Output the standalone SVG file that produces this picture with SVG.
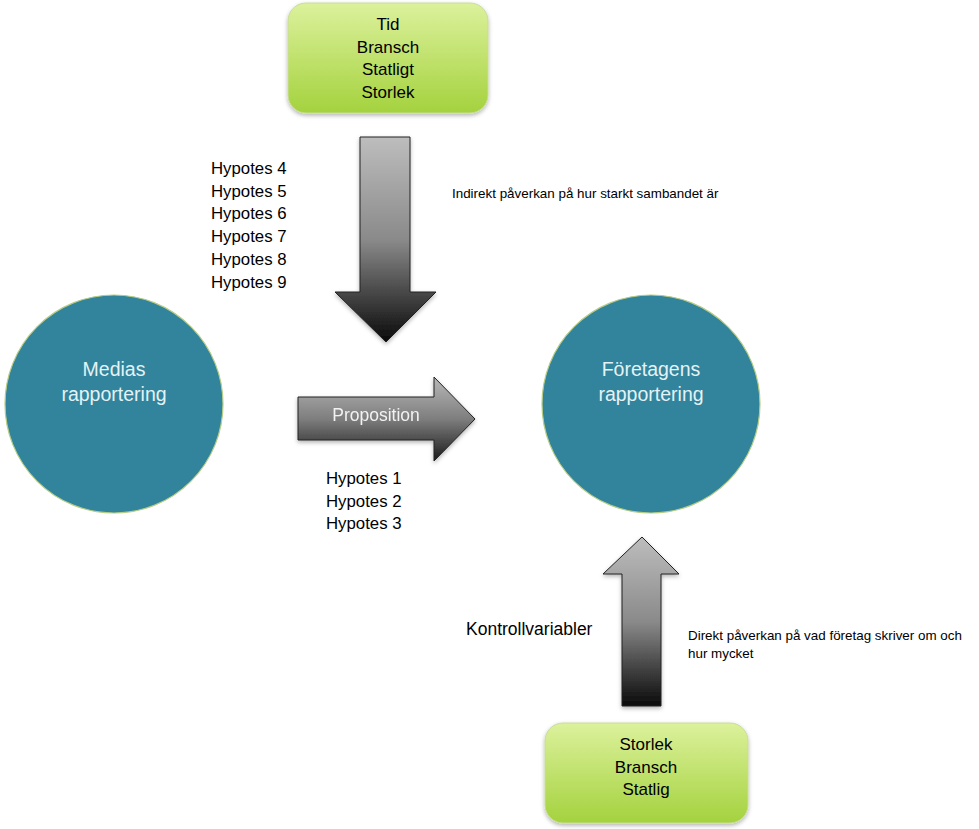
<svg xmlns="http://www.w3.org/2000/svg" width="979" height="829" viewBox="0 0 979 829">
<style>
text{font-family:"Liberation Sans",Arial,sans-serif;fill:#000}
.t{font-size:16.8px}
.k{font-size:17.5px}
.s{font-size:13.4px}
.c{font-size:19.5px;fill:#e4f2f6;text-anchor:middle}
.b{font-size:17px;text-anchor:middle}
.p{font-size:17.5px;fill:#f2f2f2;text-anchor:middle}
.box{fill:url(#g);stroke:#c9dc9a;stroke-width:1}
.circ{fill:#31849b;stroke:#b7cc86;stroke-width:1.2}
</style>
<defs>
<linearGradient id="g" x1="0" y1="0" x2="0" y2="1">
<stop offset="0" stop-color="#dcf19c"/>
<stop offset="1" stop-color="#a4d23e"/>
</linearGradient>
<linearGradient id="ad" x1="0" y1="0" x2="0" y2="1">
<stop offset="0" stop-color="#bdbdbd"/>
<stop offset="0.5" stop-color="#8a8a8a"/>
<stop offset="1" stop-color="#0a0a0a"/>
</linearGradient>
<linearGradient id="ar" x1="0" y1="0" x2="0" y2="1">
<stop offset="0" stop-color="#b8b8b8"/>
<stop offset="0.5" stop-color="#7e7e7e"/>
<stop offset="1" stop-color="#1a1a1a"/>
</linearGradient>
<filter id="sh" x="-10%" y="-10%" width="120%" height="130%">
<feDropShadow dx="0" dy="2" stdDeviation="2" flood-color="#000" flood-opacity="0.3"/>
</filter>
</defs>
<g id="connectors">
<g id="arrow-down" filter="url(#sh)">
<path d="M360,137 H410 V292 H436 L386,342 L335,292 H360 Z" fill="url(#ad)" stroke="#222" stroke-width="1"/>
</g>
<g id="arrow-proposition" filter="url(#sh)">
<path d="M298,397 H434 V377 L475,419 L434,461 V440 H298 Z" fill="url(#ar)" stroke="#222" stroke-width="1"/>
<text class="p" x="376" y="421">Proposition</text>
</g>
<g id="arrow-up" filter="url(#sh)">
<path d="M642,537 L679,574 H661 V706 H622 V574 H603 Z" fill="url(#ad)" stroke="#222" stroke-width="1"/>
</g>
</g>
<g id="node-top">
<rect class="box" x="288" y="3" width="200" height="110" rx="18" filter="url(#sh)"/>
<text class="b" x="388" y="30">Tid</text>
<text class="b" x="388" y="53">Bransch</text>
<text class="b" x="388" y="75">Statligt</text>
<text class="b" x="388" y="98">Storlek</text>
</g>
<g id="node-bottom">
<rect class="box" x="545" y="723" width="203" height="100" rx="18" filter="url(#sh)"/>
<text class="b" x="646" y="750">Storlek</text>
<text class="b" x="646" y="773">Bransch</text>
<text class="b" x="646" y="795">Statlig</text>
</g>
<g id="node-medias">
<circle class="circ" cx="114" cy="404" r="109"/>
<text class="c" x="114" y="376">Medias</text>
<text class="c" x="114" y="401">rapportering</text>
</g>
<g id="node-foretagens">
<circle class="circ" cx="651" cy="404" r="109"/>
<text class="c" x="651" y="376">Företagens</text>
<text class="c" x="651" y="401">rapportering</text>
</g>
<g id="labels">
<text class="t" x="211" y="174">Hypotes 4</text>
<text class="t" x="211" y="197">Hypotes 5</text>
<text class="t" x="211" y="219">Hypotes 6</text>
<text class="t" x="211" y="242">Hypotes 7</text>
<text class="t" x="211" y="265">Hypotes 8</text>
<text class="t" x="211" y="288">Hypotes 9</text>
<text class="t" x="326" y="484">Hypotes 1</text>
<text class="t" x="326" y="507">Hypotes 2</text>
<text class="t" x="326" y="529">Hypotes 3</text>
<text class="s" x="452" y="198">Indirekt påverkan på hur starkt sambandet är</text>
<text class="k" x="466" y="635">Kontrollvariabler</text>
<text class="s" x="688" y="640">Direkt påverkan på vad företag skriver om och</text>
<text class="s" x="688" y="658">hur mycket</text>
</g>
</svg>
